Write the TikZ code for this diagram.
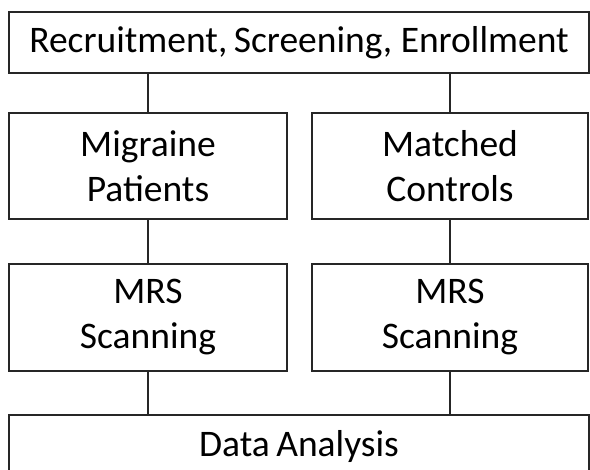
\documentclass[tikz,border=0pt]{standalone}
\usepackage{fontspec}
\setmainfont{Carlito}
\begin{document}
\begin{tikzpicture}[x=1pt,y=1pt,
  box/.style={draw=black!85, line width=1.6pt, fill=white, inner sep=0pt, align=center,
    font=\fontsize{37.5}{45}\selectfont, text=black},
  conn/.style={draw=black!85, line width=1.4pt}]
\useasboundingbox (0,0) rectangle (590,470);
\fill[white] (0,0) rectangle (590,470);
\node[box, minimum width=580, minimum height=61] (top) at (299,427.5) {Recruitment,\hspace{-2pt} Screening, Enrollment};
\node[box, minimum width=278, minimum height=106] (lm) at (148,304) {Migraine\\Patients};
\node[box, minimum width=276, minimum height=106] (rm) at (450,304) {Matched\\Controls};
\node[box, minimum width=278, minimum height=107] (ls) at (148,152.5) {MRS\\Scanning};
\node[box, minimum width=276, minimum height=107] (rs) at (450,152.5) {MRS\\Scanning};
\node[box, minimum width=580, minimum height=63] (bot) at (299,23.5) {Data\hspace{-2pt} Analysis};
\draw[conn] (top.south -| lm.north) -- (lm.north);
\draw[conn] (top.south -| rm.north) -- (rm.north);
\draw[conn] (lm.south) -- (ls.north);
\draw[conn] (rm.south) -- (rs.north);
\draw[conn] (ls.south) -- (bot.north -| ls.south);
\draw[conn] (rs.south) -- (bot.north -| rs.south);
\end{tikzpicture}
\end{document}
